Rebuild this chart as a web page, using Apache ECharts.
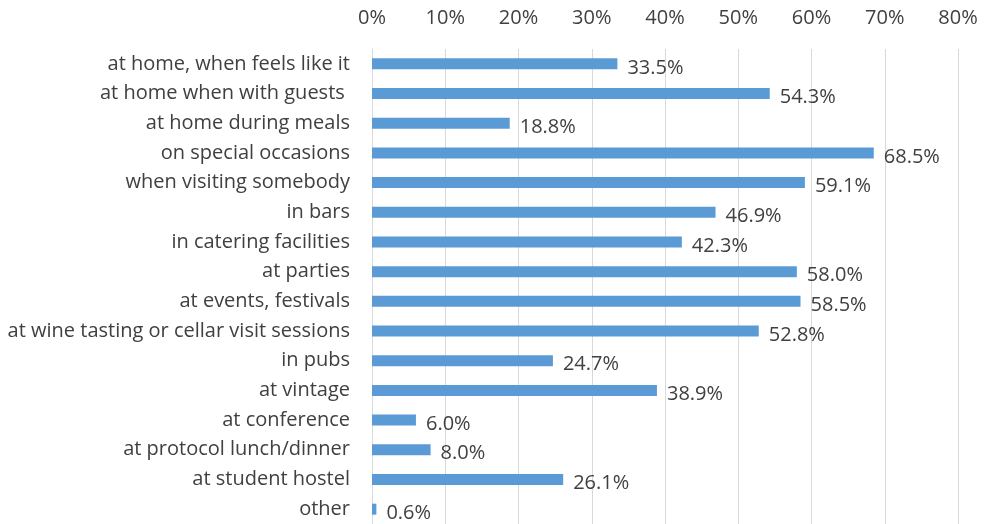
<!DOCTYPE html>
<html>
<head>
<meta charset="utf-8">
<script src="https://cdn.jsdelivr.net/npm/echarts@6/dist/echarts.min.js"></script>
<style>
  html, body { margin: 0; padding: 0; background: #ffffff; }
  #chart { width: 985px; height: 524px; }
</style>
</head>
<body>
<div id="chart"></div>
<script>
// Places where wine is consumed (share of respondents, %)
const categories = [
  'at home, when feels like it',
  'at home when with guests ',
  'at home during meals',
  'on special occasions',
  'when visiting somebody',
  'in bars',
  'in catering facilities',
  'at parties',
  'at events, festivals',
  'at wine tasting or cellar visit sessions',
  'in pubs',
  'at vintage',
  'at conference',
  'at protocol lunch/dinner',
  'at student hostel',
  'other'
];
const shares = [33.5, 54.3, 18.8, 68.5, 59.1, 46.9, 42.3, 58.0, 58.5, 52.8, 24.7, 38.9, 6.0, 8.0, 26.1, 0.6];
const axisMax = 80;
const axisStep = 10;

const textColor = '#404040';
const fontFamily = 'Open Sans, Noto Sans, sans-serif';
const fontSize = 20;

const chart = echarts.init(document.getElementById('chart'));
chart.setOption({
  animation: false,
  backgroundColor: '#ffffff',
  grid: { left: 372, right: 27, top: 49, bottom: -6, containLabel: false },
  xAxis: {
    type: 'value',
    position: 'top',
    min: 0,
    max: axisMax,
    interval: axisStep,
    axisLine: { show: false },
    axisTick: { show: false },
    axisLabel: {
      formatter: v => v + '%',
      color: textColor,
      fontFamily: fontFamily,
      fontSize: fontSize,
      margin: 21
    },
    splitLine: { lineStyle: { color: '#d9d9d9', width: 1 } }
  },
  yAxis: {
    type: 'category',
    inverse: true,
    data: categories,
    axisLine: { show: true, lineStyle: { color: '#d9d9d9', width: 1 } },
    axisTick: { show: false },
    axisLabel: {
      color: textColor,
      fontFamily: fontFamily,
      fontSize: fontSize,
      margin: 22,
      padding: [4, 0, 0, 0]
    }
  },
  series: [{
    type: 'bar',
    data: shares,
    barWidth: 11,
    itemStyle: { color: '#5b9bd5' },
    label: {
      show: true,
      position: 'right',
      distance: 10,
      offset: [0, 4],
      formatter: p => p.value.toFixed(1) + '%',
      color: textColor,
      fontFamily: fontFamily,
      fontSize: fontSize
    }
  }]
});
</script>
</body>
</html>
